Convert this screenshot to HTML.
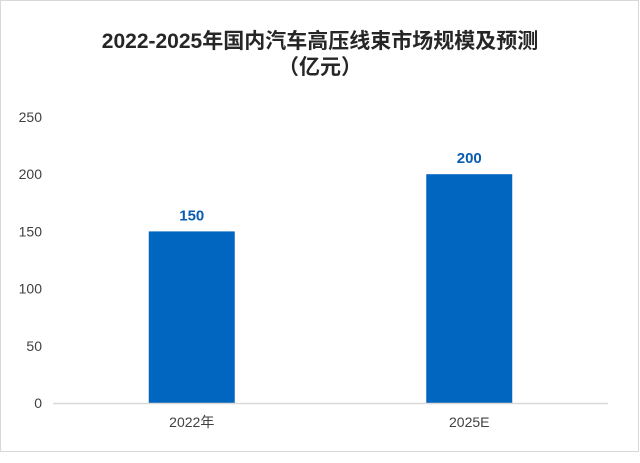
<!DOCTYPE html>
<html><head><meta charset="utf-8"><style>
html,body{margin:0;padding:0;background:#fff;}
#wrap{position:relative;width:640px;height:463px;overflow:hidden;font-family:"Liberation Sans","Noto Sans CJK SC",sans-serif;}
</style></head><body>
<div id="wrap">
<svg id="chart" width="640" height="463">
  <rect x="0.5" y="0.5" width="638" height="451" fill="#fff" stroke="#d8d8d8"/>
  <text x="320" y="48" text-anchor="middle" font-size="21" font-weight="bold" fill="#262626">2022-2025年国内汽车高压线束市场规模及预测</text>
  <text x="320" y="74" text-anchor="middle" font-size="21" font-weight="bold" fill="#262626">（亿元）</text>
  <g id="yaxis"></g>
  <g id="bars"></g>
  <line x1="53" y1="403.5" x2="608" y2="403.5" stroke="#d9d9d9" stroke-width="1.5"/>
</svg>
</div>
<script>
const categories = ["2022年", "2025E"];
const values = [150, 200];
const yTicks = [0, 50, 100, 150, 200, 250];

const svg = document.getElementById('chart');
const NS = 'http://www.w3.org/2000/svg';
const y0 = 403, yTop = 117, yMax = 250;
const x0 = 53, x1 = 608;
function yScale(v){ return y0 - (v / yMax) * (y0 - yTop); }
function xCenter(i){ const band = (x1 - x0) / categories.length; return x0 + band * (i + 0.5); }
const barW = 86;

const yg = document.getElementById('yaxis');
yTicks.forEach(t => {
  const tx = document.createElementNS(NS, 'text');
  
  
  tx.setAttribute('x', 42);
  tx.setAttribute('y', yScale(t) + 5);
  tx.setAttribute('text-anchor', 'end');
  tx.setAttribute('font-size', '14');
  tx.setAttribute('fill', '#404040');
  tx.textContent = t;
  yg.appendChild(tx);
});

const bg = document.getElementById('bars');
categories.forEach((c, i) => {
  const cx = xCenter(i);
  const r = document.createElementNS(NS, 'rect');
  
  
  r.setAttribute('x', cx - barW / 2);
  r.setAttribute('y', yScale(values[i]));
  r.setAttribute('width', barW);
  r.setAttribute('height', y0 - yScale(values[i]));
  r.setAttribute('fill', '#0066bf');
  bg.appendChild(r);

  const lv = document.createElementNS(NS, 'text');
  
  
  lv.setAttribute('x', cx);
  lv.setAttribute('y', yScale(values[i]) - 11);
  lv.setAttribute('text-anchor', 'middle');
  lv.setAttribute('font-size', '15');
  lv.setAttribute('font-weight', 'bold');
  lv.setAttribute('fill', '#0a5cb0');
  lv.textContent = values[i];
  bg.appendChild(lv);

  const cl = document.createElementNS(NS, 'text');
  
  
  cl.setAttribute('x', cx);
  cl.setAttribute('y', 427);
  cl.setAttribute('text-anchor', 'middle');
  cl.setAttribute('font-size', '14');
  cl.setAttribute('fill', '#404040');
  cl.textContent = c;
  bg.appendChild(cl);
});
</script>
</body></html>
